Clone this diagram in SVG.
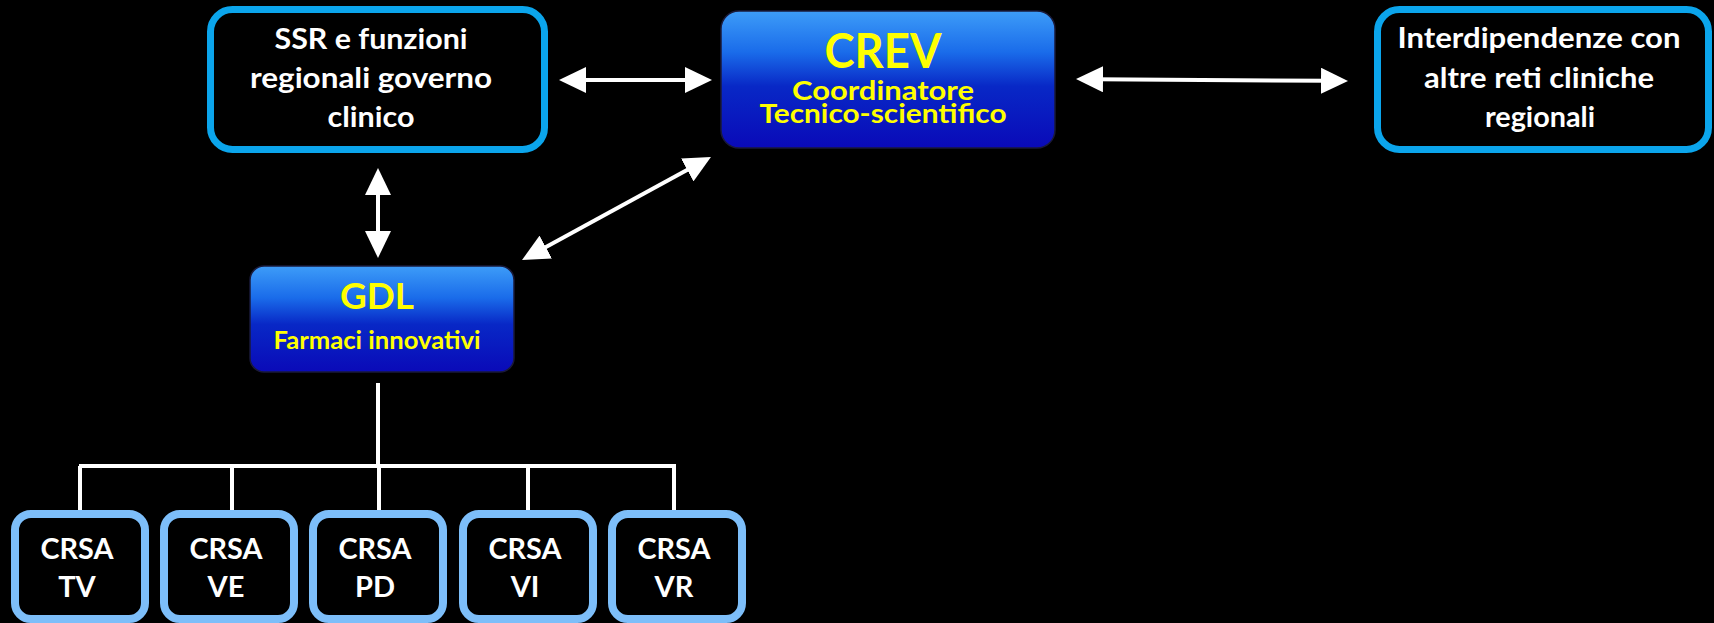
<svg xmlns="http://www.w3.org/2000/svg" width="1714" height="623" viewBox="0 0 1714 623">
  <defs>
    <style>
      .frame { fill: #000; stroke: #0ba5ec; stroke-width: 7; }
      .crsa { fill: #000; stroke: #7dbef9; stroke-width: 8; }
      .blue { fill: url(#gloss); stroke: #1a1a3a; stroke-width: 1.5; }
      .wt { font-family: Lato, "Liberation Sans", sans-serif; font-weight: 700; fill: #fff; text-anchor: middle; }
      .yt { font-family: Lato, "Liberation Sans", sans-serif; font-weight: 700; fill: #ffff00; text-anchor: middle; }
      .conn { stroke: #fff; stroke-width: 4; fill: none; }
      .tree { stroke: #fff; stroke-width: 4; fill: none; }
    </style>
    <linearGradient id="gloss" x1="0" y1="0" x2="0" y2="1">
      <stop offset="0" stop-color="#3d9cf8"/>
      <stop offset="0.3" stop-color="#1a6cea"/>
      <stop offset="0.55" stop-color="#0828c6"/>
      <stop offset="1" stop-color="#0a0ab8"/>
    </linearGradient>
    <marker id="head" markerUnits="userSpaceOnUse" markerWidth="27" markerHeight="26" refX="7" refY="13" orient="auto-start-reverse">
      <path d="M0,0 L27,13 L0,26 Z" fill="#fff"/>
    </marker>
  </defs>
  <rect width="1714" height="623" fill="#000"/>

  <g id="connectors">
    <line class="conn" x1="579" y1="80" x2="692" y2="80" marker-start="url(#head)" marker-end="url(#head)"/>
    <line class="conn" x1="1096" y1="79.2" x2="1328" y2="80.8" marker-start="url(#head)" marker-end="url(#head)"/>
    <line class="conn" x1="378" y1="188" x2="378" y2="238" marker-start="url(#head)" marker-end="url(#head)"/>
    <line class="conn" x1="539.6" y1="250.4" x2="693.4" y2="166.6" marker-start="url(#head)" marker-end="url(#head)"/>
    <path class="tree" d="M378,383 V466 M79,466 H676 M80,466 V512 M232,466 V512 M379,466 V512 M528,466 V512 M674,466 V512"/>
  </g>

  <g id="ssr">
    <rect class="frame" x="210.5" y="9.5" width="334" height="140" rx="22"/>
    <text class="wt" font-size="29" x="371" y="49" textLength="193" lengthAdjust="spacingAndGlyphs">SSR e funzioni</text>
    <text class="wt" font-size="29" x="371" y="88" textLength="242" lengthAdjust="spacingAndGlyphs">regionali governo</text>
    <text class="wt" font-size="29" x="371" y="127" textLength="87" lengthAdjust="spacingAndGlyphs">clinico</text>
  </g>

  <g id="crev">
    <rect class="blue" x="721" y="11" width="334" height="137" rx="18"/>
    <text class="yt" font-size="47" x="883" y="68" textLength="117" lengthAdjust="spacingAndGlyphs">CREV</text>
    <text class="yt" font-size="27" x="883" y="100" textLength="182" lengthAdjust="spacingAndGlyphs">Coordinatore</text>
    <text class="yt" font-size="27" x="883" y="123" textLength="247" lengthAdjust="spacingAndGlyphs">Tecnico-scientifico</text>
  </g>

  <g id="interdipendenze">
    <rect class="frame" x="1377.5" y="9.5" width="331" height="140" rx="22"/>
    <text class="wt" font-size="29" x="1539" y="48" textLength="283" lengthAdjust="spacingAndGlyphs">Interdipendenze con</text>
    <text class="wt" font-size="29" x="1539" y="88" textLength="230" lengthAdjust="spacingAndGlyphs">altre reti cliniche</text>
    <text class="wt" font-size="29" x="1540" y="127" textLength="110" lengthAdjust="spacingAndGlyphs">regionali</text>
  </g>

  <g id="gdl">
    <rect class="blue" x="250" y="266" width="264" height="106" rx="14"/>
    <text class="yt" font-size="37" x="377" y="309" textLength="74" lengthAdjust="spacingAndGlyphs">GDL</text>
    <text class="yt" font-size="24" x="377" y="349" textLength="207" lengthAdjust="spacingAndGlyphs">Farmaci innovativi</text>
  </g>

  <g id="crsa-tv">
    <rect class="crsa" x="15" y="514" width="130" height="105" rx="16"/>
    <text class="wt" font-size="29" x="77" y="559" textLength="73" lengthAdjust="spacingAndGlyphs">CRSA</text>
    <text class="wt" font-size="29" x="77" y="597">TV</text>
  </g>
  <g id="crsa-ve">
    <rect class="crsa" x="164" y="514" width="130" height="105" rx="16"/>
    <text class="wt" font-size="29" x="226" y="559" textLength="73" lengthAdjust="spacingAndGlyphs">CRSA</text>
    <text class="wt" font-size="29" x="226" y="597">VE</text>
  </g>
  <g id="crsa-pd">
    <rect class="crsa" x="313" y="514" width="130" height="105" rx="16"/>
    <text class="wt" font-size="29" x="375" y="559" textLength="73" lengthAdjust="spacingAndGlyphs">CRSA</text>
    <text class="wt" font-size="29" x="375" y="597">PD</text>
  </g>
  <g id="crsa-vi">
    <rect class="crsa" x="463" y="514" width="130" height="105" rx="16"/>
    <text class="wt" font-size="29" x="525" y="559" textLength="73" lengthAdjust="spacingAndGlyphs">CRSA</text>
    <text class="wt" font-size="29" x="525" y="597">VI</text>
  </g>
  <g id="crsa-vr">
    <rect class="crsa" x="612" y="514" width="130" height="105" rx="16"/>
    <text class="wt" font-size="29" x="674" y="559" textLength="73" lengthAdjust="spacingAndGlyphs">CRSA</text>
    <text class="wt" font-size="29" x="674" y="597">VR</text>
  </g>
</svg>
